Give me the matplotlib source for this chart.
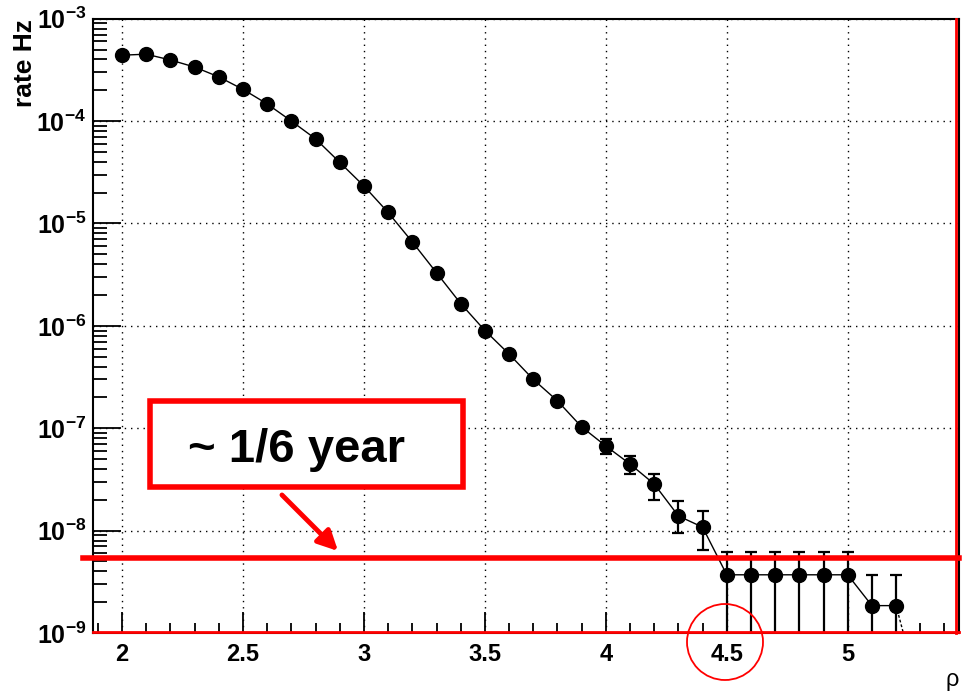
import numpy as np
import matplotlib
matplotlib.use("Agg")
from matplotlib import pyplot as plt
from matplotlib.patches import Rectangle, Circle, FancyArrowPatch
from matplotlib.ticker import FixedLocator, FuncFormatter, LogLocator, NullFormatter

plt.rcParams['font.family'] = ['Liberation Sans', 'DejaVu Sans']
plt.rcParams['mathtext.fontset'] = 'custom'
plt.rcParams['mathtext.bf'] = 'Liberation Sans:bold'
plt.rcParams['mathtext.rm'] = 'Liberation Sans'

# rate vs rho, one point per 0.1 bin
rho = [2.0, 2.1, 2.2, 2.3, 2.4, 2.5, 2.6, 2.7, 2.8, 2.9,
       3.0, 3.1, 3.2, 3.3, 3.4, 3.5, 3.6, 3.7, 3.8, 3.9,
       4.0, 4.1, 4.2, 4.3, 4.4, 4.5, 4.6, 4.7, 4.8, 4.9,
       5.0, 5.1, 5.2]
rate = [4.4e-4, 4.5e-4, 3.95e-4, 3.37e-4, 2.7e-4, 2.04e-4, 1.47e-4, 1.0e-4, 6.7e-5, 3.95e-5,
        2.32e-5, 1.28e-5, 6.6e-6, 3.3e-6, 1.65e-6, 9.0e-7, 5.3e-7, 3.0e-7, 1.85e-7, 1.03e-7,
        6.7e-8, 4.47e-8, 2.85e-8, 1.39e-8, 1.08e-8, 3.7e-9, 3.7e-9, 3.7e-9, 3.7e-9, 3.7e-9,
        3.7e-9, 1.85e-9, 1.85e-9]
err_hi = [0, 0, 0, 0, 0, 0, 0, 0, 0, 0,
          0, 0, 0, 0, 0, 0, 0, 0, 0, 0,
          1.1e-8, 9.0e-9, 7.5e-9, 5.5e-9, 4.6e-9, 2.5e-9, 2.5e-9, 2.5e-9, 2.5e-9, 2.5e-9,
          2.5e-9, 1.85e-9, 1.85e-9]
err_lo = [0, 0, 0, 0, 0, 0, 0, 0, 0, 0,
          0, 0, 0, 0, 0, 0, 0, 0, 0, 0,
          1.1e-8, 9.0e-9, 8.5e-9, 4.5e-9, 4.3e-9, 3.69e-9, 3.69e-9, 3.69e-9, 3.69e-9, 3.69e-9,
          3.69e-9, 1.849e-9, 1.849e-9]

one_sixth_year = 5.4e-9   # one event in ~1/6 year
xlim = (1.88, 5.46)
ylim = (1e-9, 1e-3)

fig = plt.figure(figsize=(9.67, 6.92), dpi=100)
ax = fig.add_axes([0.0962, 0.0853, 0.8955, 0.8877])
ax.set_yscale('log')
ax.set_xlim(*xlim)
ax.set_ylim(*ylim)

ax.plot(rho, rate, color='black', lw=1.0, zorder=3)
ax.plot([rho[-1], rho[-1] + 0.03], [rate[-1], ylim[0]], color='black', lw=1.0,
        ls=(0, (2, 1.5)), zorder=3)
ax.errorbar(rho, rate, yerr=[err_lo, err_hi], fmt='o', color='black', ms=10,
            elinewidth=1.6, capsize=4, capthick=1.6, zorder=4)

# ticks, ROOT style
ax.xaxis.set_major_locator(FixedLocator([2, 2.5, 3, 3.5, 4, 4.5, 5]))
ax.xaxis.set_minor_locator(FixedLocator(np.arange(1.9, 5.45, 0.1)))
ax.xaxis.set_major_formatter(FuncFormatter(lambda v, p: f'{v:g}'))
ax.yaxis.set_major_locator(FixedLocator([1e-9, 1e-8, 1e-7, 1e-6, 1e-5, 1e-4, 1e-3]))
ax.yaxis.set_minor_locator(LogLocator(base=10, subs=np.arange(2, 10), numticks=20))
ax.yaxis.set_minor_formatter(NullFormatter())
ax.yaxis.set_major_formatter(FuncFormatter(
    lambda v, p: r'$\mathbf{10^{%d}}$' % int(round(np.log10(v)))))
ax.tick_params(axis='x', which='major', direction='in', length=15, width=1.3,
               labelsize=17, pad=7)
ax.tick_params(axis='x', which='minor', direction='in', length=7.5, width=1.3)
ax.tick_params(axis='y', which='major', direction='in', length=20, width=1.3,
               labelsize=18, pad=5)
ax.tick_params(axis='y', which='minor', direction='in', length=10, width=1.3)
for lab in ax.get_xticklabels():
    lab.set_fontweight('bold')

ax.grid(True, which='major', color='black', ls=(0, (1, 3.5)), lw=1.0)
for s in ax.spines.values():
    s.set_linewidth(1.5)
    s.set_color('black')

# red edge lines on bottom and right
ax.plot([0, 1], [0.002, 0.002], transform=ax.transAxes, color='red', lw=2.0,
        clip_on=False, zorder=5)
ax.plot([0.997, 0.997], [0, 1], transform=ax.transAxes, color='red', lw=2.0,
        clip_on=False, zorder=5)

# 1/6 year threshold line
ax.plot([-0.012, 1.0], [one_sixth_year, one_sixth_year],
        transform=ax.get_yaxis_transform(), color='red', lw=4.0,
        clip_on=False, zorder=5)

# label box and arrow
box = Rectangle((150 / 967, 1 - 487 / 692), 313 / 967, 86 / 692,
                transform=fig.transFigure, fill=True, facecolor='white',
                edgecolor='red', lw=4.0, zorder=6)
fig.patches.append(box)
fig.text(296 / 967, 1 - 450 / 692, '~ 1/6 year', fontsize=34, fontweight='bold',
         ha='center', va='center', zorder=7)
arrow = FancyArrowPatch((280 / 967, 1 - 493 / 692), (340 / 967, 1 - 553 / 692),
                        transform=fig.transFigure, color='red', lw=3.5,
                        arrowstyle='-|>,head_length=12,head_width=6', mutation_scale=1,
                        zorder=7)
fig.patches.append(arrow)

# circle around 4.5, drawn in inches so it stays round
circ = Circle((7.25, (692 - 642) / 100), 0.38, transform=fig.dpi_scale_trans,
              fill=False, edgecolor='red', lw=1.3, zorder=7)
fig.patches.append(circ)

fig.text(0.026, 0.972, 'rate Hz', rotation=90, ha='center', va='top',
         fontsize=19, fontweight='bold')
fig.text(952 / 967, 1 - 680 / 692, 'ρ', ha='center', va='center', fontsize=17)

fig.savefig('out.png', dpi=100)
